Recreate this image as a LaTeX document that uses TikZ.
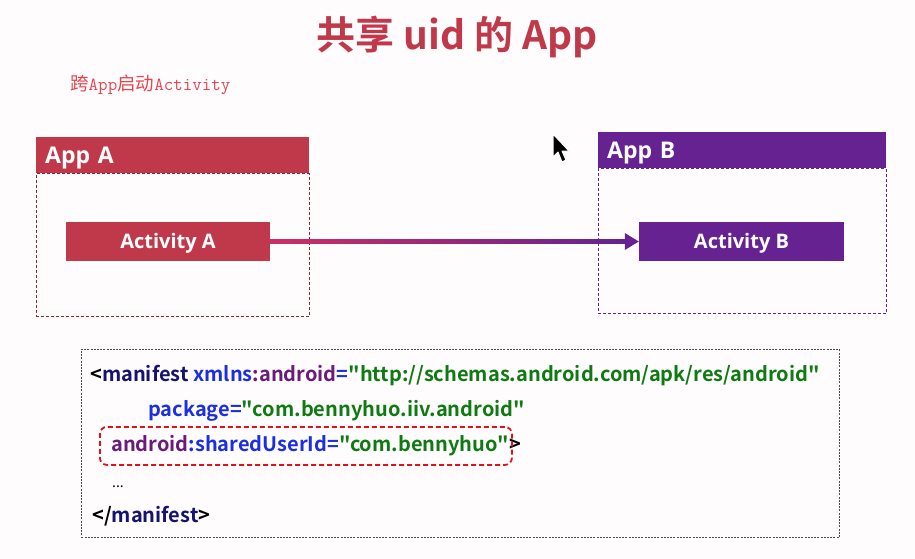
\documentclass[tikz,border=0pt]{standalone}
\usepackage{fontspec}
\setmainfont{Open Sans}
\newfontfamily\cjkbold[BoldFont={Noto Sans CJK SC Bold}]{Noto Sans CJK SC}
\newfontfamily\cjkreg{Noto Sans CJK SC}
\usetikzlibrary{shadings}
\definecolor{cred}{HTML}{C0394A}
\definecolor{credd}{HTML}{8E2636}
\definecolor{cpurple}{HTML}{652290}
\definecolor{csub}{HTML}{E8454E}
\definecolor{cnavy}{HTML}{14146E}
\definecolor{cblue}{HTML}{1B2FE0}
\definecolor{cpur}{HTML}{6A1B7A}
\definecolor{cgreen}{HTML}{0F7A12}
\definecolor{chl}{HTML}{D9141E}
\definecolor{cbg}{HTML}{FFFCFE}
\begin{document}
\begin{tikzpicture}[x=1pt,y=-1pt,
  header/.style={anchor=north west, text=white, font=\bfseries\fontsize{23}{25}\selectfont,
    inner xsep=9pt, inner ysep=0pt, text width=255pt, minimum height=36pt, align=left,
    text height=17pt, text depth=1pt},
  appbody/.style={anchor=north west, dashed, dash pattern=on 3pt off 2pt, line width=0.8pt,
    minimum width=273pt, inner sep=0pt},
  actbox/.style={text=white, font=\bfseries\fontsize{20}{22}\selectfont,
    minimum width=204pt, minimum height=39pt, inner sep=0pt, text height=17pt, text depth=3pt},
  code/.style={anchor=base west, inner sep=0pt, font=\cjkbold\bfseries\fontsize{20}{22}\selectfont},
]
\fill[cbg] (0,0) rectangle (915,559);
\useasboundingbox (0,0) rectangle (915,559);

% title
\node[text=cred, font=\cjkbold\bfseries\fontsize{39}{43}\selectfont] (title) at (457,37) {共享 uid 的 App};
% subtitle
\node[text=csub, anchor=west, inner sep=0pt, font=\fontsize{18.5}{20}\selectfont] (sub) at (70,85)
  {\cjkreg 跨\ttfamily App\cjkreg 启动\ttfamily Activity};

% App A
\node[header, fill=cred] (appA) at (36,137) {App A};
\node[appbody, draw=credd, minimum height=143pt] (bodyA) at (appA.south west) {};
\node[actbox, fill=cred] (actA) at (168,241.5) {Activity A};

% App B
\node[header, fill=cpurple, text width=270pt] (appB) at (598,132) {App B};
\node[appbody, draw=cpurple, minimum width=288pt, minimum height=145pt] (bodyB) at (appB.south west) {};
\node[actbox, fill=cpurple, minimum width=205pt] (actB) at (741.5,241.5) {Activity B};

% connector
\coordinate (shaftend) at ([xshift=-14pt]actB.west);
\shade[left color=cred!85!magenta, right color=cpurple]
  ([yshift=2pt]actA.east) rectangle ([yshift=-2pt]shaftend);
\fill[cpurple] ([yshift=8.5pt]shaftend) -- (actB.west) -- ([yshift=-8.5pt]shaftend) -- cycle;

% cursor
\filldraw[fill=black, draw=white, line width=1pt, line join=round]
  (553,134) -- (553,157) -- (558,152) -- (562,162) -- (566,160) -- (562,151) -- (569,151) -- cycle;

% code box
\node[anchor=north west, draw=black!70, dashed, dash pattern=on 2pt off 1.2pt, line width=0.8pt,
  minimum width=758pt, minimum height=188pt, inner sep=0pt] (codebox) at (81,349) {};
\node[code] (l1) at (90,381) {<\textcolor{cnavy}{manifest} \textcolor{cblue}{xmlns}\textcolor{cpur}{:android}\textcolor{cblue}{=}\textcolor{cgreen}{"http://schemas.android.com/apk/res/android"}};
\node[code] (l2) at (148,416) {\textcolor{cblue}{package=}\textcolor{cgreen}{"com.bennyhuo.iiv.android"}};
\node[code] (l3) at (111,451) {\textcolor{cpur}{android}\textcolor{cblue}{:sharedUserId=}\textcolor{cgreen}{"com.bennyhuo"}>};
\node[code, font=\cjkreg\fontsize{14}{16}\selectfont] (l4) at (112,487) {...};
\node[code] (l5) at (92,522) {</\textcolor{cnavy}{manifest}>};
\node[anchor=north west, draw=chl, dashed, dash pattern=on 5pt off 3pt, line width=1.8pt,
  rounded corners=7pt, minimum width=412pt, minimum height=38pt, inner sep=0pt] (hl) at (99,426) {};
\end{tikzpicture}
\end{document}
